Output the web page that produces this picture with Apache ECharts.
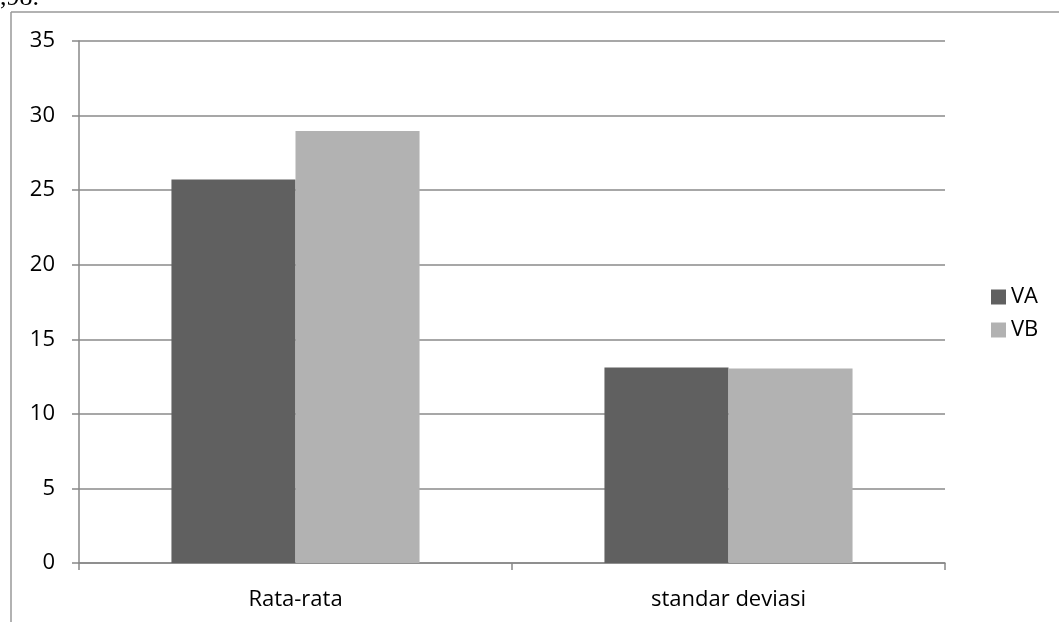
<!DOCTYPE html>
<html>
<head>
<meta charset="utf-8">
<script src="https://cdn.jsdelivr.net/npm/echarts@6/dist/echarts.min.js"></script>
<style>html,body{margin:0;padding:0;background:#fff;}#c{width:1059px;height:622px;}</style>
</head>
<body>
<div id="c"></div>
<script>
const categories = ['Rata-rata', 'standar deviasi'];
const seriesNames = ['VA', 'VB'];
const valuesVA = [25.72, 13.1];
const valuesVB = [28.96, 13.04];
const yTicks = [0, 5, 10, 15, 20, 25, 30, 35];

const chart = echarts.init(document.getElementById('c'), null, {renderer: 'canvas'});
const font = 'Open Sans';
chart.setOption({
  animation: false,
  backgroundColor: '#ffffff',
  grid: {left: 79, top: 41, right: 114, bottom: 59},
  legend: {
    orient: 'vertical', left: 991, top: 285, padding: 0,
    itemWidth: 15, itemHeight: 15, itemGap: 9,
    icon: 'rect',
    textStyle: {fontFamily: font, fontSize: 22, color: '#000', lineHeight: 24},
    data: seriesNames
  },
  xAxis: {
    type: 'category', data: categories,
    axisLine: {lineStyle: {color: '#888', width: 1.5}},
    axisTick: {show: true, length: 7, lineStyle: {color: '#888', width: 1.5}},
    axisLabel: {fontFamily: font, fontSize: 22, color: '#000', margin: 26}
  },
  yAxis: {
    type: 'value', min: yTicks[0], max: yTicks[yTicks.length - 1], interval: 5,
    axisLine: {show: true, lineStyle: {color: '#888', width: 1.5}},
    axisTick: {show: true, length: 7, lineStyle: {color: '#888', width: 1.5}},
    axisLabel: {fontFamily: font, fontSize: 22, color: '#000', margin: 24},
    splitLine: {lineStyle: {color: '#8a8a8a', width: 1.5}}
  },
  series: [
    {name: seriesNames[0], type: 'bar', data: valuesVA, barGap: '0%', barCategoryGap: '42.7%',
     itemStyle: {color: '#606060'}},
    {name: seriesNames[1], type: 'bar', data: valuesVB, barGap: '0%', barCategoryGap: '42.7%',
     itemStyle: {color: '#b2b2b2'}}
  ],
  graphic: [
    {type: 'line', shape: {x1: 11, y1: 12, x2: 1059, y2: 12}, style: {stroke: '#999', lineWidth: 1.5}},
    {type: 'line', shape: {x1: 11, y1: 12, x2: 11, y2: 622}, style: {stroke: '#999', lineWidth: 1.5}},
    {type: 'text', left: 0, top: -15, style: {text: ',98.', font: '26px "Liberation Serif"', fill: '#000'}}
  ]
});
</script>
</body>
</html>
